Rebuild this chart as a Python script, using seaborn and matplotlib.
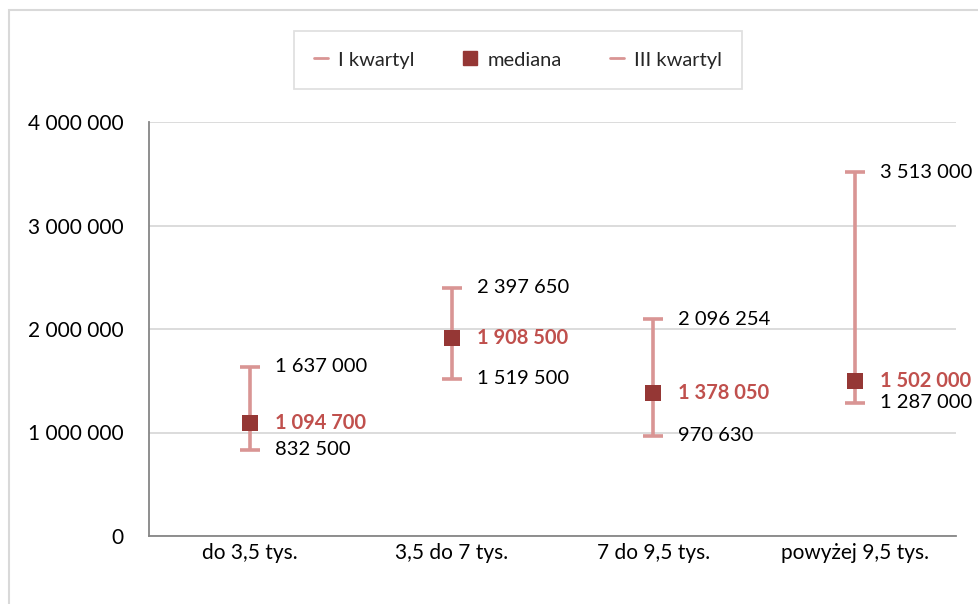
import matplotlib
matplotlib.use('Agg')
import matplotlib.pyplot as plt
from matplotlib.lines import Line2D
from matplotlib.patches import Rectangle
from matplotlib.ticker import FuncFormatter, FixedLocator
import seaborn as sns
import pandas as pd


CATEGORIES = ['do 3,5 tys.', '3,5 do 7 tys.', '7 do 9,5 tys.', 'powyżej 9,5 tys.']
Q1 = [832500, 1519500, 970630, 1287000]
MEDIAN = [1094700, 1908500, 1378050, 1502000]
Q3 = [1637000, 2397650, 2096254, 3513000]
Y_TICKS = [0, 1000000, 2000000, 3000000, 4000000]

BAR_COLOR = '#D99594'
MEDIAN_COLOR = '#953735'
MEDIAN_TEXT = '#C0504D'


def fmt(v):
    return f'{int(v):,}'.replace(',', ' ')


def main():
    sns.set_theme(style='white')
    plt.rcParams['font.family'] = ['Lato', 'DejaVu Sans']

    df = pd.DataFrame({'grupa': CATEGORIES, 'q1': Q1, 'mediana': MEDIAN, 'q3': Q3})
    pos = list(range(len(CATEGORIES)))

    fig = plt.figure(figsize=(9.79, 6.04), dpi=100)
    ax = fig.add_axes([149 / 979, (604 - 536) / 604, (956 - 149) / 979, (536 - 122) / 604])

    # quartile range as error bars
    ax.errorbar(pos, df['mediana'],
                yerr=[df['mediana'] - df['q1'], df['q3'] - df['mediana']],
                fmt='none', ecolor=BAR_COLOR, elinewidth=2.6, capsize=7, capthick=2.6, zorder=2)
    sns.scatterplot(x=pos, y=df['mediana'], marker='s', s=120, color=MEDIAN_COLOR,
                    edgecolor=MEDIAN_COLOR, linewidth=0, ax=ax, zorder=3, legend=False)

    # labels to the right of each point
    for i, row in df.iterrows():
        ax.annotate(fmt(row['q3']), (i, row['q3']), xytext=(18, 0), textcoords='offset points',
                    va='center', ha='left', fontsize=14.5, color='black')
        ax.annotate(fmt(row['q1']), (i, row['q1']), xytext=(18, 0), textcoords='offset points',
                    va='center', ha='left', fontsize=14.5, color='black')
        ax.annotate(fmt(row['mediana']), (i, row['mediana']), xytext=(18, 0), textcoords='offset points',
                    va='center', ha='left', fontsize=14.5, color=MEDIAN_TEXT, fontweight='bold')

    ax.set_xlim(-0.5, len(CATEGORIES) - 0.5)
    ax.set_ylim(0, 4000000)
    ax.set_yticks(Y_TICKS)
    ax.yaxis.set_major_formatter(FuncFormatter(lambda v, p: fmt(v)))
    ax.set_xticks(pos)
    ax.set_xticklabels(CATEGORIES)
    ax.xaxis.set_minor_locator(FixedLocator([p - 0.5 for p in pos] + [len(pos) - 0.5]))
    ax.tick_params(axis='x', which='major', length=0, pad=5, labelsize=15, colors='black')
    ax.tick_params(axis='x', which='minor', length=6, width=1.3, color='#868686', direction='out')
    ax.tick_params(axis='y', which='major', length=6, width=1.3, color='#868686', pad=12,
                   labelsize=15, labelcolor='black', direction='out')
    ax.set_xlabel('')
    ax.set_ylabel('')

    ax.grid(axis='y', color='#D9D9D9', linewidth=1.3, zorder=0)
    ax.set_axisbelow(True)
    for side in ['top', 'right']:
        ax.spines[side].set_visible(False)
    for side in ['left', 'bottom']:
        ax.spines[side].set_color('#868686')
        ax.spines[side].set_linewidth(1.3)

    handles = [
        Line2D([], [], color=BAR_COLOR, linewidth=2, markersize=0),
        Line2D([], [], color=MEDIAN_COLOR, marker='s', linestyle='none', markersize=10),
        Line2D([], [], color=BAR_COLOR, linewidth=2, markersize=0),
    ]
    leg = fig.legend(handles, ['I kwartyl', 'mediana', 'III kwartyl'], ncol=3,
                     loc='center', bbox_to_anchor=(518 / 979, 1 - 60 / 604),
                     fontsize=14.5, frameon=True, fancybox=False, handlelength=0.7,
                     handletextpad=0.5, columnspacing=2.4, borderpad=1.0, borderaxespad=0)
    leg.get_frame().set_edgecolor('#D9D9D9')
    leg.get_frame().set_linewidth(1.3)

    # outer chart frame
    fig.patches.append(Rectangle((9 / 979, -0.05), 1.1, 1 - 10 / 604 + 0.05, transform=fig.transFigure,
                                 fill=False, edgecolor='#D9D9D9', linewidth=1.5))

    fig.savefig('out.png', dpi=100)
    plt.close(fig)


if __name__ == '__main__':
    main()
